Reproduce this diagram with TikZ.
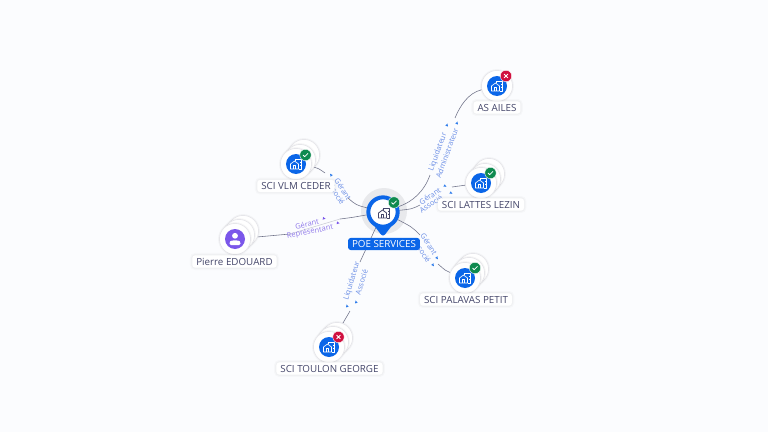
\documentclass[tikz,border=0pt]{standalone}
\usepackage{fontspec}
\setmainfont{Open Sans}
\pgfdeclarelayer{back}\pgfdeclarelayer{edges}
\pgfsetlayers{back,edges,main}
\definecolor{bgc}{HTML}{FBFCFE}
\definecolor{blu}{HTML}{0B66E8}
\definecolor{ink}{HTML}{44466A}
\definecolor{edgec}{HTML}{6F7288}
\definecolor{elab}{HTML}{6C8FE6}
\definecolor{plab}{HTML}{8F78EA}
\definecolor{purp}{HTML}{7B57EA}
\definecolor{okc}{HTML}{0E8A4F}
\definecolor{koc}{HTML}{D0103F}
\definecolor{halo}{HTML}{E8E9EC}
\definecolor{ringc}{HTML}{E6E6EA}
\tikzset{
 x=0.75pt,y=-0.75pt,
 disc/.style={circle,fill=white,draw=ringc,line width=0.5pt,minimum size=23.4pt,inner sep=0pt,outer sep=0pt,
   preaction={draw=black,opacity=.03,line width=2pt}},
 coreblue/.style={circle,fill=blu,minimum size=15pt,inner sep=0pt},
 corepurp/.style={circle,fill=purp,minimum size=15pt,inner sep=0pt},
 okbadge/.style={circle,fill=okc,draw=white,line width=0.3pt,minimum size=8.6pt,inner sep=0pt},
 kobadge/.style={circle,fill=koc,draw=white,line width=0.3pt,minimum size=8.6pt,inner sep=0pt},
 namebox/.style={fill=white,rounded corners=2.2pt,text=ink,font=\fontsize{7.35}{8}\selectfont,inner xsep=3pt,inner ysep=1.9pt,
   preaction={draw=black,opacity=.018,line width=3.5pt},preaction={draw=black,opacity=.022,line width=1.8pt}},
 poebox/.style={fill=blu,rounded corners=2.2pt,text=white,font=\fontsize{7.35}{8}\selectfont,inner xsep=3pt,inner ysep=1.9pt},
 conn/.style={draw=edgec,line width=0.42pt},
 elabel/.style={text=elab,font=\fontsize{5.6}{6}\selectfont,inner sep=0pt},
 plabel/.style={text=plab,font=\fontsize{5.6}{6}\selectfont,inner sep=0pt},
 tipb/.style={fill=blu!85!white},
 tipp/.style={fill=purp},
}
\newcommand{\tinytip}[4]{\fill[#1,shift={(#2)},rotate=#3,scale=#4] (2,0)--(-1.4,1.7)--(-1.4,-1.7)--cycle;}
\newcommand{\bldg}[3]{\begin{scope}[shift={(#1)},draw=#2,line width=#3,line join=round]
 \draw (-5.5,5)--(-5.5,0)--(-1.5,-3)--(2.5,0)--(2.5,5)--cycle;
 \draw (-1,-3.4)--(-1,-5)--(5.5,-5)--(5.5,5)--(2.5,5);
 \draw (-2.8,5)--(-2.8,1.5)--(-0.2,1.5)--(-0.2,5);
 \draw (4,-2.5)--(4,-1.5) (4,0.5)--(4,1.5);
\end{scope}}
\newcommand{\checkm}[1]{\draw[white,line width=0.55pt,line cap=round,line join=round,shift={(#1)}] (-2.4,0.1)--(-0.8,1.7)--(2.4,-1.6);}
\newcommand{\crossm}[1]{\draw[white,line width=0.55pt,line cap=round,shift={(#1)}] (-1.8,-1.8)--(1.8,1.8) (-1.8,1.8)--(1.8,-1.8);}
\begin{document}
\begin{tikzpicture}
\useasboundingbox (0,0) rectangle (768,432);
\begin{pgfonlayer}{back}
\fill[bgc] (0,0) rectangle (768,432);
\fill[halo] (384,211) circle (23);
\end{pgfonlayer}

% central pin
\fill[blu] (367.5,217) -- (381,234.5) .. controls (382.2,236) and (383.8,236) .. (385,234.5) -- (398.5,217) -- cycle;
\node[circle,fill=white,draw=blu,line width=3pt,minimum size=22pt,inner sep=0pt] (poe) at (383,212) {};
\bldg{384,213}{ink}{0.6pt}
\node[okbadge] (poeok) at (394,202.5) {}; \checkm{394,202.5}
\node[poebox] (poelabel) at (384,244) {POE SERVICES};

% SCI VLM CEDER
\node[disc] at (304,155) {}; \node[disc] at (300,160) {};
\node[disc] (vlm) at (296,164) {};
\node[coreblue] (vlmcore) at (296,164) {}; \bldg{296,164}{white}{0.5pt}
\node[okbadge] (vlmok) at (305.5,155) {}; \checkm{305.5,155}
\node[namebox] (vlmlabel) at (296,186) {SCI VLM CEDER};

% Pierre EDOUARD
\node[disc] at (243,231) {}; \node[disc] at (239,235) {};
\node[disc] (pierre) at (235,239) {};
\node[corepurp] (pierrecore) at (235,239) {};
\fill[white] (235,235.8) circle (2.9);
\fill[white,rounded corners=1pt] (229.5,245) -- (229.5,242.5) .. controls (231,240) and (239,240) .. (240.5,242.5) -- (240.5,245) -- cycle;
\node[namebox] (pierrelabel) at (234.5,261.5) {Pierre EDOUARD};

% SCI TOULON GEORGE
\node[disc] at (337,338) {}; \node[disc] at (333,342) {};
\node[disc] (toulon) at (329,347) {};
\node[coreblue] (touloncore) at (329,347) {}; \bldg{329,347}{white}{0.5pt}
\node[kobadge] (toulonko) at (338.5,337) {}; \crossm{338.5,337}
\node[namebox] (toulonlabel) at (329.5,368.5) {SCI TOULON GEORGE};

% AS AILES
\node[disc] (ailes) at (497,86) {};
\node[coreblue] (ailescore) at (497,86) {}; \bldg{497,86}{white}{0.5pt}
\node[kobadge] (ailesko) at (506,76) {}; \crossm{506,76}
\node[namebox] (aileslabel) at (497,107.5) {AS AILES};

% SCI LATTES LEZIN
\node[disc] at (489,174) {}; \node[disc] at (485,179) {};
\node[disc] (lattes) at (481,183) {};
\node[coreblue] (lattescore) at (481,183) {}; \bldg{481,183}{white}{0.5pt}
\node[okbadge] (lattesok) at (490.5,173) {}; \checkm{490.5,173}
\node[namebox] (latteslabel) at (481,204.5) {SCI LATTES LEZIN};

% SCI PALAVAS PETIT
\node[disc] at (473,269) {}; \node[disc] at (469,273) {};
\node[disc] (palavas) at (465,278) {};
\node[coreblue] (palavascore) at (465,278) {}; \bldg{465,278}{white}{0.5pt}
\node[okbadge] (palavasok) at (475,268) {}; \checkm{475,268}
\node[namebox] (palavaslabel) at (466,299.5) {SCI PALAVAS PETIT};

\begin{pgfonlayer}{edges}
\coordinate (vlmA) at (325,173); \coordinate (vlmB) at (348,198);
\draw[conn] (vlm) .. controls (318,168) .. (vlmA);
\draw[conn] (vlmB) .. controls (356,205) .. (poe);

\coordinate (piA) at (290,234); \coordinate (piB) at (340,219);
\draw[conn] (pierre) -- (piA);
\draw[conn,opacity=.35] (piA) -- (piB);
\draw[conn] (piB) .. controls (352,217.5) .. (poe);

\coordinate (toA) at (350,311); \coordinate (toB) at (360,262);
\draw[conn] (toulon) -- (toA);
\draw[conn] (toB) -- (poe);

\coordinate (aiA) at (455,118); \coordinate (aiB) at (430,175);
\draw[conn] (ailes) .. controls (468,93) and (460,106) .. (aiA);
\draw[conn] (aiB) .. controls (424,192) and (412,202) .. (poe);

\coordinate (laA) at (452,187); \coordinate (laB) at (420,205);
\draw[conn] (lattes) -- (laA);
\draw[conn] (laB) .. controls (412,209) .. (poe);

\coordinate (paA) at (438,264); \coordinate (paB) at (420,235);
\draw[conn] (palavas) .. controls (446,271) .. (paA);
\draw[conn] (paB) .. controls (412,227) .. (poe);

\node[elabel,rotate=-57] (vlmT) at (343,189) {Gérant};
\node[elabel,rotate=-57] (vlmS) at (336,193) {Associé};
\tinytip{tipb}{331,175}{125}{0.8}
\tinytip{tipb}{333,185}{125}{0.8}

\node[plabel,rotate=11] (piT) at (307,224) {Gérant};
\node[plabel,rotate=11] (piS) at (310,232) {Représentant};
\tinytip{tipp}{324,218.5}{-10}{0.8}
\tinytip{tipp}{338,223}{-10}{0.8}

\node[elabel,rotate=73] (toT) at (352,281) {Liquidateur};
\node[elabel,rotate=73] (toS) at (361.5,282) {Associé};
\tinytip{tipb}{347,306}{105}{0.8}
\tinytip{tipb}{356,302}{105}{0.8}

\node[elabel,rotate=70] (aiT) at (438,152) {Liquidateur};
\node[elabel,rotate=70] (aiS) at (447,153) {Administrateur};
\tinytip{tipb}{447,125}{70}{0.8}
\tinytip{tipb}{457,123}{70}{0.8}

\node[elabel,rotate=34] (laT) at (430,196) {Gérant};
\node[elabel,rotate=34] (laS) at (431,204) {Associé};
\tinytip{tipb}{445,186}{-30}{0.8}
\tinytip{tipb}{451,193}{-30}{0.8}

\node[elabel,rotate=-57] (paT) at (429,244) {Gérant};
\node[elabel,rotate=-57] (paS) at (422,251) {Associé};
\tinytip{tipb}{437,258}{-55}{0.8}
\tinytip{tipb}{433,265}{-55}{0.8}
\end{pgfonlayer}
\end{tikzpicture}
\end{document}
